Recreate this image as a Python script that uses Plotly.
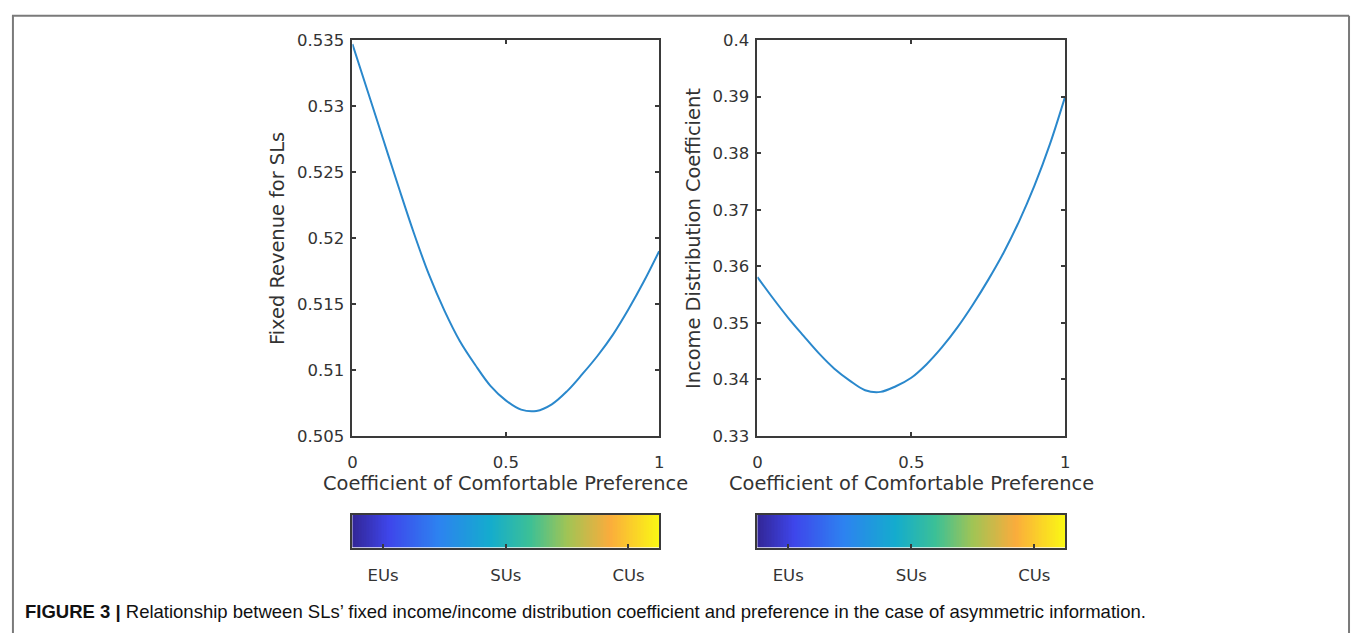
import numpy as np
import plotly.graph_objects as go

# ---------------- data ----------------
pref = [0.00, 0.05, 0.10, 0.15, 0.20, 0.25, 0.30, 0.35, 0.40, 0.45, 0.50,
        0.55, 0.60, 0.65, 0.70, 0.75, 0.80, 0.85, 0.90, 0.95, 1.00]
fixed_revenue = [0.5347, 0.5311, 0.5275, 0.5239, 0.5204, 0.5172, 0.5145, 0.5122,
                 0.5104, 0.5088, 0.5077, 0.5070, 0.5069, 0.5074, 0.5084, 0.5097,
                 0.5111, 0.5127, 0.5146, 0.5167, 0.5190]
income_coef = [0.3581, 0.3544, 0.3509, 0.3477, 0.3446, 0.3419, 0.3398, 0.3381,
               0.3378, 0.3388, 0.3403, 0.3427, 0.3457, 0.3492, 0.3532, 0.3576,
               0.3624, 0.3679, 0.3742, 0.3815, 0.3900]

left_yticks = [0.505, 0.51, 0.515, 0.52, 0.525, 0.53, 0.535]
right_yticks = [0.33, 0.34, 0.35, 0.36, 0.37, 0.38, 0.39, 0.4]
x_ticks = [0, 0.5, 1]
cbar_tickvals = [0.1, 0.5, 0.9]
cbar_labels = ["EUs", "SUs", "CUs"]

x_title = "Coefficient of Comfortable Preference"
left_ytitle = "Fixed Revenue for SLs"
right_ytitle = "Income Distribution Coefficient"
caption = ("<b>FIGURE 3 |</b> Relationship between SLs’ fixed income/income distribution "
           "coefficient and preference in the case of asymmetric information.")

parula_like = [
    [0.00, "rgb(50,38,150)"],
    [0.12, "rgb(62,70,235)"],
    [0.28, "rgb(45,130,240)"],
    [0.45, "rgb(20,172,205)"],
    [0.58, "rgb(60,192,150)"],
    [0.70, "rgb(160,196,85)"],
    [0.84, "rgb(250,172,60)"],
    [1.00, "rgb(250,248,20)"],
]

# ---------------- layout geometry ----------------
W, H = 1357, 643
def px(x):
    return x / W
def py(y):
    return 1 - y / H

FONT = "DejaVu Sans"
TXT = "#333333"
AX = "#3a3a3a"
LINE = "#2a88cc"

fig = go.Figure()

fig.add_trace(go.Scatter(x=pref, y=fixed_revenue, mode="lines", line=dict(color=LINE, width=2, shape="spline"),
                         xaxis="x", yaxis="y", showlegend=False))
fig.add_trace(go.Scatter(x=pref, y=income_coef, mode="lines", line=dict(color=LINE, width=2, shape="spline"),
                         xaxis="x2", yaxis="y2", showlegend=False))

grad = np.linspace(0, 1, 200)
for xa, ya in (("x3", "y3"), ("x4", "y4")):
    fig.add_trace(go.Heatmap(x=grad, y=[0], z=[grad], colorscale=parula_like, showscale=False,
                             xaxis=xa, yaxis=ya, hoverinfo="skip"))

common_axis = dict(showline=True, linecolor=AX, linewidth=1.5, ticks="inside",
                   ticklen=4, tickcolor=AX, tickwidth=1.5, showgrid=False, zeroline=False,
                   tickfont=dict(family=FONT, size=16.5, color=TXT))

xdom1 = [px(350), px(659)]
xdom2 = [px(758), px(1068)]
ydom = [py(440), py(32)]
cdom = [py(555), py(521)]

cbar_y = dict(range=[-0.5, 0.5], showticklabels=False, showline=True, linecolor=AX, linewidth=1.5,
              mirror=True, ticks="", showgrid=False, zeroline=False)

fig.update_layout(
    width=W, height=H, margin=dict(l=0, r=0, t=0, b=0),
    paper_bgcolor="white", plot_bgcolor="white",
    xaxis=dict(domain=xdom1, range=[0, 1], tickvals=x_ticks, ticklabelstandoff=10, anchor="y",
               mirror="ticks", **common_axis),
    yaxis=dict(domain=ydom, range=[0.505, 0.535], tickvals=left_yticks, ticklabelstandoff=3, anchor="x",
               mirror="ticks", **common_axis),
    xaxis2=dict(domain=xdom2, range=[0, 1], tickvals=x_ticks, ticklabelstandoff=10, anchor="y2",
                mirror="ticks", **common_axis),
    yaxis2=dict(domain=ydom, range=[0.33, 0.40], tickvals=right_yticks, ticklabelstandoff=3, anchor="x2",
                mirror="ticks", **common_axis),
    xaxis3=dict(domain=xdom1, range=[0, 1], tickvals=cbar_tickvals, ticktext=cbar_labels, ticklabelstandoff=12,
                anchor="y3", mirror=True, **common_axis),
    yaxis3=dict(domain=cdom, anchor="x3", **cbar_y),
    xaxis4=dict(domain=xdom2, range=[0, 1], tickvals=cbar_tickvals, ticktext=cbar_labels, ticklabelstandoff=12,
                anchor="y4", mirror=True, **common_axis),
    yaxis4=dict(domain=cdom, anchor="x4", **cbar_y),
)

annos = [
    dict(text=x_title, x=px(504), y=py(489), xref="paper", yref="paper", showarrow=False,
         font=dict(family=FONT, size=19.4, color=TXT), xanchor="center", yanchor="middle"),
    dict(text=x_title, x=px(913), y=py(489), xref="paper", yref="paper", showarrow=False,
         font=dict(family=FONT, size=19.4, color=TXT), xanchor="center", yanchor="middle"),
    dict(text=left_ytitle, x=px(274), y=py(236), xref="paper", yref="paper", showarrow=False, textangle=-90,
         font=dict(family=FONT, size=19.4, color=TXT), xanchor="center", yanchor="middle"),
    dict(text=right_ytitle, x=px(693), y=py(236), xref="paper", yref="paper", showarrow=False, textangle=-90,
         font=dict(family=FONT, size=19.4, color=TXT), xanchor="center", yanchor="middle"),
    dict(text=caption, x=px(18), y=py(621), xref="paper", yref="paper", showarrow=False,
         font=dict(family="Liberation Sans", size=18.5, color="#111111"), xanchor="left", yanchor="middle"),
]
fig.update_layout(annotations=annos)

frame = dict(type="line", xref="paper", yref="paper", line=dict(color="#7a7a7a", width=2))
fig.update_layout(shapes=[
    dict(frame, x0=px(7), x1=px(1354), y0=py(7), y1=py(7)),
    dict(frame, x0=px(8), x1=px(8), y0=py(7), y1=0),
    dict(frame, x0=px(1354), x1=px(1354), y0=py(7), y1=0),
])

fig.write_html("out.html")
